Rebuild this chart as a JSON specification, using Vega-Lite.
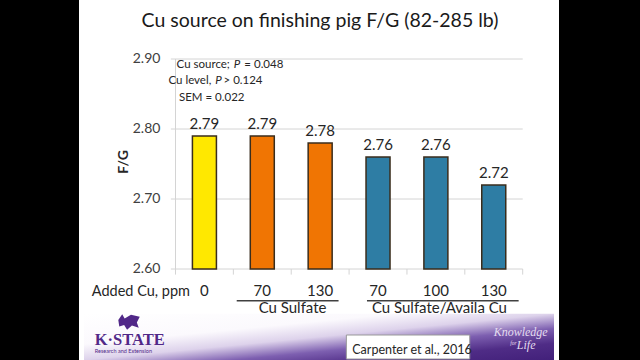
{
  "$schema": "https://vega.github.io/schema/vega-lite/v6.json",
  "width": 480,
  "height": 360,
  "autosize": "none",
  "padding": {"left": 79, "right": 81, "top": 0, "bottom": 0},
  "background": "#000000",
  "config": {"view": {"fill": "white", "stroke": null}, "axis": {"disable": true}, "text": {"font": "Lato", "color": "#262626"}},
  "datasets": {
    "bars": [
      {"x": 1, "y": 2.79, "label": "2.79", "src": "None"},
      {"x": 2, "y": 2.79, "label": "2.79", "src": "Cu Sulfate"},
      {"x": 3, "y": 2.78, "label": "2.78", "src": "Cu Sulfate"},
      {"x": 4, "y": 2.76, "label": "2.76", "src": "Cu Sulfate/Availa Cu"},
      {"x": 5, "y": 2.76, "label": "2.76", "src": "Cu Sulfate/Availa Cu"},
      {"x": 6, "y": 2.72, "label": "2.72", "src": "Cu Sulfate/Availa Cu"}
    ],
    "grid": [
      {"x": 0.42, "x2": 6.5, "y": 2.6},
      {"x": 0.42, "x2": 6.5, "y": 2.7},
      {"x": 0.42, "x2": 6.5, "y": 2.8},
      {"x": 0.42, "x2": 6.5, "y": 2.9}
    ],
    "ylabels": [
      {"x": 0.239, "y": 2.6, "t": "2.60"},
      {"x": 0.239, "y": 2.7, "t": "2.70"},
      {"x": 0.239, "y": 2.8, "t": "2.80"},
      {"x": 0.239, "y": 2.9, "t": "2.90"}
    ],
    "ticks": [
      {"x": 0.5, "y": 2.6, "y2": 2.592},
      {"x": 1.5, "y": 2.6, "y2": 2.592},
      {"x": 2.5, "y": 2.6, "y2": 2.592},
      {"x": 3.5, "y": 2.6, "y2": 2.592},
      {"x": 4.5, "y": 2.6, "y2": 2.592},
      {"x": 5.5, "y": 2.6, "y2": 2.592},
      {"x": 6.5, "y": 2.6, "y2": 2.592}
    ],
    "cats": [
      {"x": 1, "y": 2.5614, "t": "0"},
      {"x": 2, "y": 2.5614, "t": "70"},
      {"x": 3, "y": 2.5614, "t": "130"},
      {"x": 4, "y": 2.5614, "t": "70"},
      {"x": 5, "y": 2.5614, "t": "100"},
      {"x": 6, "y": 2.5614, "t": "130"}
    ],
    "underlines": [
      {"x": 1.558, "x2": 3.318, "y": 2.5547},
      {"x": 3.809, "x2": 6.43, "y": 2.5547}
    ],
    "groups": [
      {"x": 2.523, "y": 2.5371, "t": "Cu Sulfate"},
      {"x": 5.061, "y": 2.5371, "t": "Cu Sulfate/Availa Cu"}
    ],
    "statsLead": [
      {"x": 1.44, "y": 2.8871, "t": "Cu source;"},
      {"x": 1.118, "y": 2.8643, "t": "Cu level,"}
    ],
    "stats": [
      {"x": 1.69, "y": 2.8871, "t": "= 0.048"},
      {"x": 1.33, "y": 2.8643, "t": "> 0.124"},
      {"x": 0.56, "y": 2.84, "t": "SEM = 0.022"}
    ],
    "statsP": [
      {"x": 1.508, "y": 2.8871, "t": "P"},
      {"x": 1.186, "y": 2.8643, "t": "P"}
    ]
  },
  "encoding": {
    "x": {"field": "x", "type": "quantitative", "scale": {"domain": [-1.081, 7.041], "nice": false, "zero": false}, "axis": null},
    "y": {"field": "y", "type": "quantitative", "scale": {"domain": [2.47, 2.98429], "nice": false, "zero": false}, "axis": null}
  },
  "layer": [
    {
      "data": {"values": [{"x": -1.081, "x2": 7.041, "y": 2.47, "y2": 2.536}]},
      "mark": {"type": "rect", "fill": {"gradient": "linear", "x1": 0, "y1": 0, "x2": 1, "y2": 1, "stops": [{"offset": 0, "color": "#ffffff"}, {"offset": 0.33, "color": "#fbf9fd"}, {"offset": 0.5, "color": "#ddd2eb"}, {"offset": 0.66, "color": "#7d5fb0"}, {"offset": 0.82, "color": "#4f2c86"}, {"offset": 1, "color": "#42207a"}]}},
      "encoding": {"x2": {"field": "x2"}, "y2": {"field": "y2"}}
    },
    {
      "data": {"name": "grid"},
      "mark": {"type": "rule", "color": "#d4d4d4", "strokeWidth": 1},
      "encoding": {"x2": {"field": "x2"}}
    },
    {
      "data": {"values": [{"x": 0.5, "y": 2.6, "y2": 2.9}]},
      "mark": {"type": "rule", "color": "#d4d4d4", "strokeWidth": 1},
      "encoding": {"y2": {"field": "y2"}}
    },
    {
      "data": {"name": "ticks"},
      "mark": {"type": "rule", "color": "#d4d4d4", "strokeWidth": 1},
      "encoding": {"y2": {"field": "y2"}}
    },
    {
      "data": {"name": "bars"},
      "mark": {"type": "bar", "width": 24, "stroke": "#3a2d1c", "strokeWidth": 1.5},
      "encoding": {
        "y2": {"datum": 2.6},
        "fill": {"field": "src", "type": "nominal", "legend": null, "scale": {"domain": ["None", "Cu Sulfate", "Cu Sulfate/Availa Cu"], "range": ["#ffe800", "#f07503", "#2e7da4"]}}
      }
    },
    {
      "data": {"name": "bars"},
      "mark": {"type": "text", "fontSize": 15, "align": "center", "baseline": "alphabetic", "dy": -7},
      "encoding": {"text": {"field": "label"}}
    },
    {
      "data": {"name": "ylabels"},
      "mark": {"type": "text", "fontSize": 14, "align": "right", "baseline": "middle", "color": "#404040"},
      "encoding": {"text": {"field": "t"}}
    },
    {
      "data": {"values": [{"x": -0.387, "y": 2.7529, "t": "F/G"}]},
      "mark": {"type": "text", "fontSize": 14, "fontWeight": "bold", "angle": 270, "align": "center", "baseline": "middle"},
      "encoding": {"text": {"field": "t"}}
    },
    {
      "data": {"name": "statsLead"},
      "mark": {"type": "text", "fontSize": 11.5, "align": "right", "baseline": "alphabetic"},
      "encoding": {"text": {"field": "t"}}
    },
    {
      "data": {"name": "stats"},
      "mark": {"type": "text", "fontSize": 11.5, "align": "left", "baseline": "alphabetic"},
      "encoding": {"text": {"field": "t"}}
    },
    {
      "data": {"name": "statsP"},
      "mark": {"type": "text", "fontSize": 11.5, "fontStyle": "italic", "align": "left", "baseline": "alphabetic"},
      "encoding": {"text": {"field": "t"}}
    },
    {
      "data": {"values": [{"x": -0.946, "y": 2.5614, "t": "Added Cu, ppm"}]},
      "mark": {"type": "text", "fontSize": 14.5, "align": "left", "baseline": "alphabetic"},
      "encoding": {"text": {"field": "t"}}
    },
    {
      "data": {"name": "cats"},
      "mark": {"type": "text", "fontSize": 15, "align": "center", "baseline": "alphabetic"},
      "encoding": {"text": {"field": "t"}}
    },
    {
      "data": {"name": "underlines"},
      "mark": {"type": "rule", "color": "#404040", "strokeWidth": 1.5},
      "encoding": {"x2": {"field": "x2"}}
    },
    {
      "data": {"name": "groups"},
      "mark": {"type": "text", "fontSize": 15, "align": "center", "baseline": "alphabetic"},
      "encoding": {"text": {"field": "t"}}
    },
    {
      "data": {"values": [{"x": 2.997, "y": 2.9457, "t": "Cu source on finishing pig F/G (82-285 lb)"}]},
      "mark": {"type": "text", "fontSize": 19.5, "align": "center", "baseline": "alphabetic", "color": "#1a1a1a"},
      "encoding": {"text": {"field": "t"}}
    },
    {
      "data": {"values": [{"x": 3.453, "x2": 5.585, "y": 2.5057, "y2": 2.4714}]},
      "mark": {"type": "rect", "fill": "#ffffff", "stroke": "#9a9a9a", "strokeWidth": 1},
      "encoding": {"x2": {"field": "x2"}, "y2": {"field": "y2"}}
    },
    {
      "data": {"values": [{"x": 3.555, "y": 2.4786, "t": "Carpenter et al., 2016"}]},
      "mark": {"type": "text", "fontSize": 12.5, "align": "left", "baseline": "alphabetic"},
      "encoding": {"text": {"field": "t"}}
    },
    {
      "data": {"values": [{"x": -0.303, "y": 2.5243}]},
      "mark": {"type": "point", "filled": true, "color": "#512888", "opacity": 1, "size": 380, "shape": "M-1.1,-0.2 L-0.7,-0.8 L-0.45,-0.35 L0.2,-0.75 L1.1,-0.55 L0.8,0.05 L1,0.6 L0.3,0.35 L-0.2,0.8 L-0.5,0.3 L-1,0.45 Z"}
    },
    {
      "data": {"values": [{"x": -0.895, "y": 2.4914, "t": "K·STATE"}]},
      "mark": {"type": "text", "font": "Liberation Serif", "fontSize": 16.5, "fontWeight": "bold", "align": "left", "baseline": "alphabetic", "color": "#512888"},
      "encoding": {"text": {"field": "t"}}
    },
    {
      "data": {"values": [{"x": -0.895, "y": 2.4804, "t": "Research and Extension"}]},
      "mark": {"type": "text", "fontSize": 5.5, "align": "left", "baseline": "alphabetic", "color": "#512888"},
      "encoding": {"text": {"field": "t"}}
    },
    {
      "data": {"values": [{"x": 6.465, "y": 2.5043, "t": "Knowledge"}]},
      "mark": {"type": "text", "font": "Liberation Serif", "fontSize": 12, "fontStyle": "italic", "align": "center", "baseline": "alphabetic", "color": "#e4dcef"},
      "encoding": {"text": {"field": "t"}}
    },
    {
      "data": {"values": [{"x": 6.56, "y": 2.4857, "t": "Life"}]},
      "mark": {"type": "text", "font": "Liberation Serif", "fontSize": 12, "fontStyle": "italic", "align": "center", "baseline": "alphabetic", "color": "#e4dcef"},
      "encoding": {"text": {"field": "t"}}
    },
    {
      "data": {"values": [{"x": 6.34, "y": 2.4914, "t": "for"}]},
      "mark": {"type": "text", "font": "Liberation Serif", "fontSize": 5.5, "fontStyle": "italic", "align": "center", "baseline": "alphabetic", "color": "#e4dcef"},
      "encoding": {"text": {"field": "t"}}
    }
  ]
}
